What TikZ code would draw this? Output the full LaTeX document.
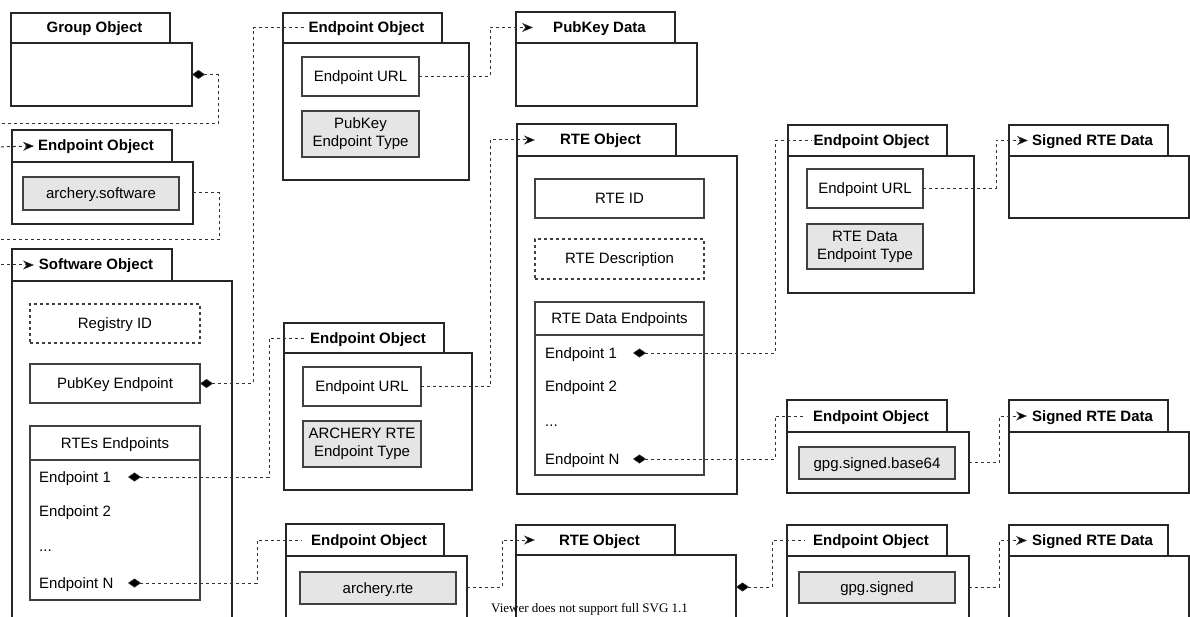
\documentclass[tikz,border=0pt]{standalone}
\usepackage{fontspec}
\setmainfont{Liberation Sans}
\newfontfamily\viewerfont{Liberation Serif}
\usetikzlibrary{arrows.meta,calc}
\newcommand{\mkbox}[6]{\node[#1, anchor=north west, minimum width=#4pt, minimum height=#5pt] (#2) at (#3) {#6};}
\tikzset{
  base/.style={draw=black!85, line width=1.2pt, outer sep=0pt, inner sep=0pt, fill=white, font=\fontsize{15}{18}\selectfont},
  one/.style={text height=11pt, text depth=1pt},
  tabst/.style={base, one, font=\fontsize{15}{18}\selectfont\bfseries},
  bodyst/.style={base},
  innerst/.style={base, draw=black!75, align=center},
  grayst/.style={innerst, fill=black!10},
  dashbox/.style={innerst, dashed, dash pattern=on 3pt off 3pt},
  itemst/.style={anchor=west, inner sep=0pt, one, font=\fontsize{15}{18}\selectfont},
  conn/.style={draw=black!80, line width=1pt, dash pattern=on 3pt off 3pt},
  tip/.style={-{Stealth[length=11pt,width=9pt,inset=3.5pt,fill=black,line width=0.6pt]}},
  dia/.style={{Diamond[length=13pt,width=9pt,fill=black,line width=0.6pt]}-}
}
\begin{document}
\begin{tikzpicture}[x=1pt,y=-1pt]
\useasboundingbox (0,0) rectangle (1190,617);
\clip (0,0) rectangle (1190,617);

% Group Object
\mkbox{bodyst}{gbody}{11,43}{181}{63}{}
\mkbox{tabst}{gtab}{11,13}{159}{30}{\hspace*{8pt}Group Object}

% Endpoint Object A (archery.software)
\mkbox{bodyst}{epabody}{12,162}{181}{62}{}
\mkbox{tabst}{epatab}{12,130}{160}{32}{\hspace*{8pt}Endpoint Object}
\mkbox{grayst,one}{epagray}{23,177}{156}{33}{archery.software}

% Software Object
\mkbox{bodyst}{swbody}{12,281}{220}{380}{}
\mkbox{tabst}{swtab}{12,249}{160}{32}{\hspace*{8pt}Software Object}
\mkbox{dashbox,one}{regid}{30,304}{170}{39}{Registry ID}
\mkbox{innerst,one}{pkep}{30,364}{170}{39}{PubKey Endpoint}
\mkbox{innerst,one}{rtehead}{30,426}{170}{34}{RTEs Endpoints}
\mkbox{innerst}{rtelist}{30,460}{170}{140}{}
\node[itemst] (swi1) at (39,477) {Endpoint 1};
\node[itemst] (swi2) at (39,511) {Endpoint 2};
\node[itemst] (swi3) at (39,546) {...};
\node[itemst] (swi4) at (39,583) {Endpoint N};

% Endpoint Object B (PubKey)
\mkbox{bodyst}{epbbody}{283,43}{186}{137}{}
\mkbox{tabst}{epbtab}{283,13}{159}{30}{\hspace*{8pt}Endpoint Object}
\mkbox{innerst,one}{epburl}{302,57}{117}{39}{Endpoint URL}
\mkbox{grayst}{epbtype}{302,111}{117}{46}{PubKey\\Endpoint Type}

% PubKey Data
\mkbox{bodyst}{pkdbody}{516,43}{181}{63}{}
\mkbox{tabst}{pkdtab}{516,12}{159}{31}{\hspace*{8pt}PubKey Data}

% Endpoint Object C (ARCHERY RTE)
\mkbox{bodyst}{epcbody}{284,353}{188}{137}{}
\mkbox{tabst}{epctab}{284,323}{160}{30}{\hspace*{8pt}Endpoint Object}
\mkbox{innerst,one}{epcurl}{303,367}{118}{39}{Endpoint URL}
\mkbox{grayst}{epctype}{303,421}{118}{46}{ARCHERY RTE\\Endpoint Type}

% Endpoint Object D (archery.rte)
\mkbox{bodyst}{epdbody}{286,556}{181}{90}{}
\mkbox{tabst}{epdtab}{286,524}{158}{32}{\hspace*{8pt}Endpoint Object}
\mkbox{grayst,one}{epdgray}{300,572}{156}{32}{archery.rte}

% RTE Object 1
\mkbox{bodyst}{r1body}{517,156}{220}{338}{}
\mkbox{tabst}{r1tab}{517,124}{159}{32}{\hspace*{8pt}RTE Object}
\mkbox{innerst,one}{rteid}{535,179}{169}{39}{RTE ID}
\mkbox{dashbox,one}{rtedesc}{535,239}{169}{40}{RTE Description}
\mkbox{innerst,one}{rdhead}{535,302}{169}{33}{RTE Data Endpoints}
\mkbox{innerst}{rdlist}{535,335}{169}{140}{}
\node[itemst] (ri1) at (545,353) {Endpoint 1};
\node[itemst] (ri2) at (545,386) {Endpoint 2};
\node[itemst] (ri3) at (545,421) {...};
\node[itemst] (ri4) at (545,459) {Endpoint N};

% RTE Object 2
\mkbox{bodyst}{r2body}{516,555}{220}{90}{}
\mkbox{tabst}{r2tab}{516,525}{159}{30}{\hspace*{8pt}RTE Object}

% Endpoint Object E (RTE data)
\mkbox{bodyst}{epebody}{788,156}{186}{137}{}
\mkbox{tabst}{epetab}{788,125}{159}{31}{\hspace*{8pt}Endpoint Object}
\mkbox{innerst,one}{epeurl}{807,169}{116}{39}{Endpoint URL}
\mkbox{grayst}{epetype}{807,224}{116}{45}{RTE Data\\Endpoint Type}

% Signed RTE Data 1
\mkbox{bodyst}{sg1body}{1009,156}{180}{62}{}
\mkbox{tabst}{sg1tab}{1009,125}{159}{31}{\hspace*{8pt}Signed RTE Data}

% Endpoint Object F (gpg.signed.base64)
\mkbox{bodyst}{epfbody}{787,432}{182}{61}{}
\mkbox{tabst}{epftab}{787,400}{160}{32}{\hspace*{8pt}Endpoint Object}
\mkbox{grayst,one}{epfgray}{799,447}{156}{32}{gpg.signed.base64}

% Signed RTE Data 2
\mkbox{bodyst}{sg2body}{1009,432}{180}{61}{}
\mkbox{tabst}{sg2tab}{1009,400}{159}{32}{\hspace*{8pt}Signed RTE Data}

% Endpoint Object G (gpg.signed)
\mkbox{bodyst}{epgbody}{787,556}{182}{90}{}
\mkbox{tabst}{epgtab}{787,525}{160}{31}{\hspace*{8pt}Endpoint Object}
\mkbox{grayst,one}{epggray}{799,572}{156}{31}{gpg.signed}

% Signed RTE Data 3
\mkbox{bodyst}{sg3body}{1009,556}{180}{90}{}
\mkbox{tabst}{sg3tab}{1009,525}{159}{31}{\hspace*{8pt}Signed RTE Data}

% free ends and diamond start points
\coordinate (L1) at (-5,124);
\coordinate (L2) at (-5,147);
\coordinate (L3) at (-5,240);
\coordinate (L4) at (-5,265);
\coordinate (s1) at (128,477);
\coordinate (sN) at (128,583);
\coordinate (d1) at (633,353);
\coordinate (dN) at (633,459);

% connectors
\draw[conn,dia] (gbody.east) -- ++(26,0) |- (L1);
\draw[conn,tip] (L2) -- ($(epatab.west)+(22,0)$);
\draw[conn] (epabody.east) -- ++(26,0) |- (L3);
\draw[conn,tip] (L4) -- ($(swtab.west)+(22,0)$);
\draw[conn,dia] (pkep.east) -- ++(53,0) |- ($(epbtab.west)+(22,0)$);
\draw[conn,dia] (s1) -- ++(141,0) |- ($(epctab.west)+(21,0)$);
\draw[conn,dia] (sN) -- ++(129,0) |- ($(epdtab.west)+(16,0)$);
\draw[conn,tip] (epburl.east) -- ++(71,0) |- ($(pkdtab.west)+(17,0)$);
\draw[conn,tip] (epcurl.east) -- ++(69,0) |- ($(r1tab.west)+(18,0)$);
\draw[conn,tip] ($(epdbody.north east)+(0,31)$) -- ++(35,0) |- ($(r2tab.west)+(19,0)$);
\draw[conn,dia] (d1) -- ++(142,0) |- ($(epetab.west)+(23,0)$);
\draw[conn,dia] (dN) -- ++(142,0) |- ($(epftab.west)+(18,0)$);
\draw[conn,dia] ($(r2body.north east)+(0,32)$) -- ++(36,0) |- ($(epgtab.west)+(18,0)$);
\draw[conn,tip] (epeurl.east) -- ++(73,0) |- ($(sg1tab.west)+(19,0)$);
\draw[conn,tip] (epfbody.east) -- ++(30,0) |- ($(sg2tab.west)+(18,0)$);
\draw[conn,tip] ($(epgbody.north east)+(0,31)$) -- ++(30,0) |- ($(sg3tab.west)+(18,0)$);

% viewer note
\node[anchor=base west, inner sep=0pt, font=\viewerfont\fontsize{13}{15}\selectfont] (viewer) at (491,612) {Viewer does not support full SVG 1.1};
\end{tikzpicture}
\end{document}
